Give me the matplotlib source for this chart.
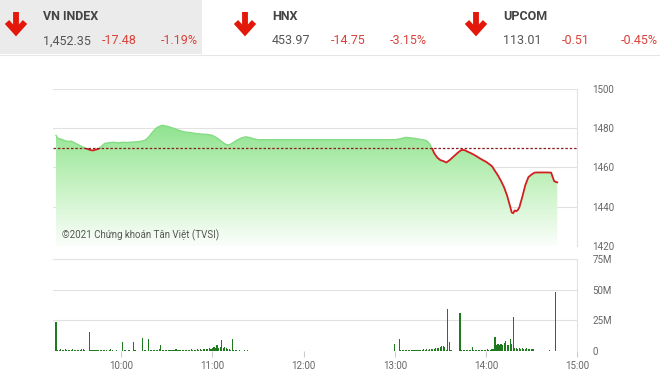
import numpy as np
import matplotlib
matplotlib.use('Agg')
from matplotlib import pyplot as plt
from matplotlib.colors import LinearSegmentedColormap
from matplotlib.patches import Polygon, Rectangle

# header values
names = ['VN INDEX', 'HNX', 'UPCOM']
closes = ['1,452.35', '453.97', '113.01']
changes = ['-17.48', '-14.75', '-0.51']
pcts = ['-1.19%', '-3.15%', '-0.45%']

ref_price = 1469.83

# price path, minutes after 9:00
price_t = [17, 18, 19, 21, 23, 25, 27, 29, 31, 33, 35, 37, 39, 41, 43, 45, 47, 49,
           52, 55, 58, 61, 64, 67, 70, 73, 76, 78, 80, 82, 84, 87, 90, 93, 96, 99,
           102, 105, 108, 111, 114, 117, 120, 123, 126, 129, 131, 133, 136, 139,
           142, 145, 148, 150,
           240, 244, 247, 250, 253, 256, 259, 261, 263, 264.5, 266, 268, 270, 272,
           274, 276, 278, 280, 282, 284, 286, 288, 290, 292, 294, 296, 298, 300,
           302, 304, 306, 308, 310, 312, 314, 316, 317, 318, 319, 320, 321, 322,
           324, 326, 328, 330, 332, 334, 337, 340, 343, 344, 345, 347]
price_v = [1476.3, 1475.0, 1474.6, 1474.2, 1473.6, 1473.2, 1473.4, 1472.6, 1471.8,
           1471.0, 1470.3, 1469.6, 1469.0, 1468.6, 1469.0, 1469.5, 1470.8, 1472.2,
           1472.6, 1472.8, 1472.5, 1472.8, 1472.7, 1472.9, 1473.0, 1473.3, 1474.0,
           1475.5, 1477.5, 1479.3, 1480.6, 1481.5, 1481.0, 1480.3, 1479.5, 1478.6,
           1478.0, 1477.8, 1477.4, 1477.1, 1476.9, 1476.8, 1476.3, 1475.0, 1473.2,
           1471.6, 1471.5, 1472.3, 1473.8, 1475.0, 1475.6, 1475.1, 1474.4, 1474.1,
           1474.1, 1474.6, 1475.3, 1475.1, 1474.8, 1474.4, 1474.0, 1473.6, 1472.0,
           1469.9, 1467.2, 1465.0, 1463.7, 1463.2, 1462.5, 1463.6, 1465.0, 1466.4,
           1467.8, 1468.9, 1468.8, 1468.0, 1467.3, 1466.5, 1465.6, 1464.6, 1463.7,
           1462.9, 1461.8, 1460.6, 1458.2, 1455.8, 1453.0, 1449.8, 1445.5, 1440.0,
           1437.0, 1436.6, 1438.0, 1437.6, 1438.2, 1439.5, 1445.0, 1451.0, 1455.0,
           1456.3, 1457.3, 1457.4, 1457.4, 1457.4, 1457.3, 1455.0, 1452.9, 1452.35]

# volume per minute (millions), morning from 9:17, afternoon from 13:00
vol_am = [24,
          1.2, 1.0, 1.3, 0.9, 1.1, 1.4, 1.0, 1.2, 0.8, 1.1, 1.3, 1.0, 0.9, 1.2, 1.1, 1.0, 1.3, 1.5, 1.2,
          0, 0, 15.5,
          1.0, 0.8, 0.9, 0.7, 1.1, 0.8, 0.6, 0.9, 0.7, 1.0, 0.8, 0, 0.6, 1.8, 0.7,
          0, 0, 0.5, 0, 0, 0.4, 7,
          0.6, 0.5, 0, 0.8, 0.4, 0, 7,
          0.8, 0, 0, 0.3, 0, 10.5, 0.9, 0.7, 0, 9.6,
          1.0, 0.8, 1.2, 0.9, 1.1, 1.0, 1.3, 5,
          1.1, 0.9, 1.0, 1.2, 0.8, 1.0, 1.1, 0.9, 1.0, 1.3, 0.8, 1.0, 1.1, 0.9, 1.2, 1.0, 0.8,
          1.1, 1.0, 1.4, 0.9, 1.2, 1.0, 1.3, 1.1, 1.5, 1.2, 1.8, 1.4, 2.0, 1.6, 2.2, 1.8,
          2.5, 3.0, 2.2, 4.5, 2.6, 3.2, 9,
          2.8, 3.5, 2.4, 2.0, 1.5, 0.8, 9.6,
          0.8, 0.6, 0.5, 0, 0.5, 0.4, 0, 0.6, 0, 0.5, 0, 0.4, 0, 0.3, 0, 0.4, 0.3]
vol_pm = [5.5, 0, 0, 9.6,
          0.6, 0.8, 0.5, 0.7, 0.6, 0.9, 0.7, 0.8, 1.0, 0.7, 0.9, 1.1, 0.8, 1.2, 1.0, 1.3, 1.1,
          1.5, 1.2, 1.6, 1.4,
          1.8, 2.0, 2.4, 2.2, 2.8, 3.2, 3.8, 4.2, 3.5, 1.0, 34, 7.5,
          1.0, 0, 0, 0, 0, 0, 31,
          1.2, 1.0, 0.8, 0.9, 1.1, 0.8, 1.0, 3.0, 0.9, 0.8, 1.0, 1.1, 0.9, 1.2, 1.0, 0.8,
          1.1, 1.3, 1.0, 1.2, 1.4, 1.6, 11.8,
          5.0, 6.0, 4.5, 5.5, 4.8, 6.5, 8.0, 5.0, 4.5, 10.0, 5.5, 28,
          2.5, 2.2, 2.0, 2.3, 1.8, 2.1, 2.0, 1.7, 2.2, 1.9, 1.6, 1.8, 1.5,
          0, 0, 0, 0, 0, 0, 0, 0, 0.4, 0, 0.5, 0, 0, 0, 48]

hour_ticks = [60, 120, 180, 240, 300, 360]
hour_labels = ['10:00', '11:00', '12:00', '13:00', '14:00', '15:00']
price_ticks = [1420, 1440, 1460, 1480, 1500]
vol_ticks = [0, 25, 50, 75]
vol_labels = ['0', '25M', '50M', '75M']

grid_c = '#e2e2e2'
label_c = '#666666'
plt.rcParams['font.family'] = ['Roboto', 'DejaVu Sans']

fig = plt.figure(figsize=(6.6, 3.79), dpi=100)

# header drawn in pixel space
bg = fig.add_axes([0, 0, 1, 1], zorder=0)
bg.set_xlim(0, 660)
bg.set_ylim(379, 0)
bg.axis('off')
bg.add_patch(Rectangle((0, 0), 202, 54, color='#ebebeb', lw=0))
bg.plot([0, 660], [55, 55], color='#e6e6e6', lw=0.8)
head_x = [43, 272, 503]
arrow_x = [16, 245, 476]
for i in range(3):
    ax0 = arrow_x[i]
    bg.plot([ax0, ax0], [12, 31], color='#e3170a', lw=4.2, solid_capstyle='butt')
    bg.plot([ax0 - 9, ax0, ax0 + 9], [22, 32, 22], color='#e3170a', lw=4.2,
            solid_joinstyle='miter', solid_capstyle='butt')
    x0 = head_x[i]
    bg.text(x0, 16, names[i], fontsize=9, fontweight='bold', color='#444444',
            va='center', ha='left', family=['Liberation Sans Narrow', 'Roboto'])
    bg.text(x0, 41, closes[i], fontsize=9, color='#555555', va='center', ha='left',
            family=['Liberation Sans Narrow', 'Roboto'])
    bg.text(x0 + 59, 41, changes[i], fontsize=9, color='#d9423a', va='center',
            ha='left', family=['Liberation Sans Narrow', 'Roboto'])
    bg.text(x0 + 118, 41, pcts[i], fontsize=9, color='#d9423a', va='center',
            ha='left', family=['Liberation Sans Narrow', 'Roboto'])

# price chart
ax = fig.add_axes([53 / 660, 1 - 245.7 / 379, 524 / 660, 156.7 / 379], zorder=1)
t = np.array(price_t, dtype=float)
v = np.array(price_v)
cmap = LinearSegmentedColormap.from_list('g', ['#fbfefb', '#c6f2c2', '#8fe38f'])
grad = np.linspace(0, 1, 256).reshape(-1, 1)
im = ax.imshow(grad, extent=[15, 360, 1420, 1482], origin='lower', aspect='auto',
               cmap=cmap, zorder=1)
verts = np.column_stack([np.r_[t[0], t, t[-1]], np.r_[1420, v, 1420]])
poly = Polygon(verts, closed=True, facecolor='none', edgecolor='none')
ax.add_patch(poly)
im.set_clip_path(poly)

up, = ax.plot(t, v, color='#84dc84', lw=1.0, zorder=3)
dn, = ax.plot(t, v, color='#d21f1f', lw=1.3, zorder=4)
clip_up = Rectangle((0, ref_price), 400, 100, transform=ax.transData)
clip_dn = Rectangle((0, 1400), 400, ref_price - 1400, transform=ax.transData)
up.set_clip_path(clip_up)
dn.set_clip_path(clip_dn)
ax.axhline(ref_price, color='#8b1c1c', lw=0.9, ls=(0, (2, 1.5)), zorder=5)

ax.set_xlim(15, 360)
ax.set_ylim(1420, 1500)
ax.set_yticks(price_ticks)
ax.set_xticks([])
ax.yaxis.tick_right()
ax.tick_params(axis='y', length=0, pad=11, labelsize=7, labelcolor=label_c)
for lab in ax.get_yticklabels():
    lab.set_horizontalalignment('left')
ax.grid(axis='y', color=grid_c, lw=0.8, zorder=0)
ax.set_axisbelow(True)
for s in ['left', 'top', 'bottom']:
    ax.spines[s].set_visible(False)
ax.spines['right'].set_color(grid_c)
ax.text(0.017, 0.064, '©2021 Chứng khoán Tân Việt (TVSI)', transform=ax.transAxes,
        fontsize=7, color='#555555', va='center', ha='left', zorder=6,
        family=['Liberation Sans Narrow', 'Roboto'])

# volume chart
axv = fig.add_axes([53 / 660, 1 - 351 / 379, 524 / 660, 92 / 379], zorder=1)
tam = 17 + np.arange(len(vol_am))
tpm = 240 + np.arange(len(vol_pm))
axv.bar(tam, vol_am, width=0.75, color='#1f7a1f', lw=0, zorder=3)
axv.bar(tpm, vol_pm, width=0.75, color='#1f7a1f', lw=0, zorder=3)
axv.set_xlim(15, 360)
axv.set_ylim(0, 75)
axv.set_yticks(vol_ticks)
axv.set_yticklabels(vol_labels)
axv.yaxis.tick_right()
axv.tick_params(axis='y', length=0, pad=11, labelsize=7, labelcolor=label_c)
for lab in axv.get_yticklabels():
    lab.set_horizontalalignment('left')
axv.set_xticks(hour_ticks)
axv.set_xticklabels(hour_labels)
axv.tick_params(axis='x', length=4, width=0.8, color='#cccccc', pad=3,
                labelsize=7, labelcolor=label_c)
axv.grid(axis='y', color=grid_c, lw=0.8, zorder=0)
axv.set_axisbelow(True)
for s in ['left', 'top', 'bottom']:
    axv.spines[s].set_visible(False)
axv.spines['right'].set_color(grid_c)

fig.savefig('out.png', dpi=100)
